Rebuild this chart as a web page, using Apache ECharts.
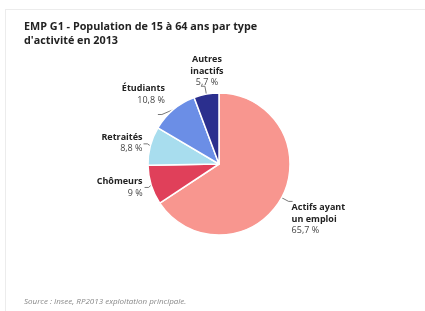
<!DOCTYPE html>
<html>
<head>
<meta charset="utf-8">
<script src="https://cdn.jsdelivr.net/npm/echarts@6/dist/echarts.min.js"></script>
<style>
  html, body { margin: 0; padding: 0; background: #fff; }
  #frame { position: absolute; left: 5px; top: 9px; width: 430px; height: 310px;
           border-left: 1px solid #ececec; border-top: 1px solid #ececec; }
  #chart { position: absolute; left: 0; top: 0; width: 425px; height: 311px; }
</style>
</head>
<body>
<div id="frame"></div>
<div id="chart"></div>
<script>
// données
var categories = ['Actifs ayant\nun emploi', 'Chômeurs', 'Retraités', 'Étudiants', 'Autres\ninactifs'];
var values = [65.7, 9, 8.8, 10.8, 5.7];
var colors = ['#f8968f', '#e0405a', '#a8ddee', '#6b8ee6', '#2b2f8e'];

// petits décalages des étiquettes pour suivre la mise en page d'origine
var labelShift = [
    { dx: -6, dy: 18 },
    { dx: 3, dy: 0 },
    { dx: 4, dy: -1 },
    { dx: 12, dy: -20 },
    { dx: 11, dy: -15, align: 'center' }
];

var chart = echarts.init(document.getElementById('chart'));

var data = categories.map(function (name, i) {
    return { name: name, value: values[i], itemStyle: { color: colors[i] } };
});

var option = {
    animation: false,
    title: [{
        text: 'EMP G1 - Population de 15 à 64 ans par type\nd\'activité en 2013',
        left: 19, top: 15,
        textStyle: { fontFamily: 'Open Sans', fontSize: 10.8, fontWeight: 'bold', color: '#222', lineHeight: 14 }
    }, {
        text: 'Source : Insee, RP2013 exploitation principale.',
        left: 19, top: 293,
        textStyle: { fontFamily: 'Open Sans', fontSize: 8, fontStyle: 'italic', fontWeight: 'normal', color: '#888' }
    }],
    series: [{
        type: 'pie',
        center: [219, 164],
        radius: 71,
        startAngle: 90,
        clockwise: true,
        itemStyle: { borderColor: '#fff', borderWidth: 1.5 },
        label: {
            formatter: function (p) {
                return '{n|' + p.name.split('\n').join('}\n{n|') + '}\n{v|' + String(p.value).replace('.', ',') + ' %}';
            },
            rich: {
                n: { fontFamily: 'Open Sans', fontSize: 9, fontWeight: 'bold', color: '#222', lineHeight: 11.5 },
                v: { fontFamily: 'Open Sans', fontSize: 9, color: '#444', lineHeight: 11.5 }
            }
        },
        labelLayout: function (params) {
            return labelShift[params.dataIndex];
        },
        labelLine: { length: 8, length2: 4, lineStyle: { color: '#555', width: 0.8 } },
        data: data
    }]
};
chart.setOption(option);
</script>
</body>
</html>
